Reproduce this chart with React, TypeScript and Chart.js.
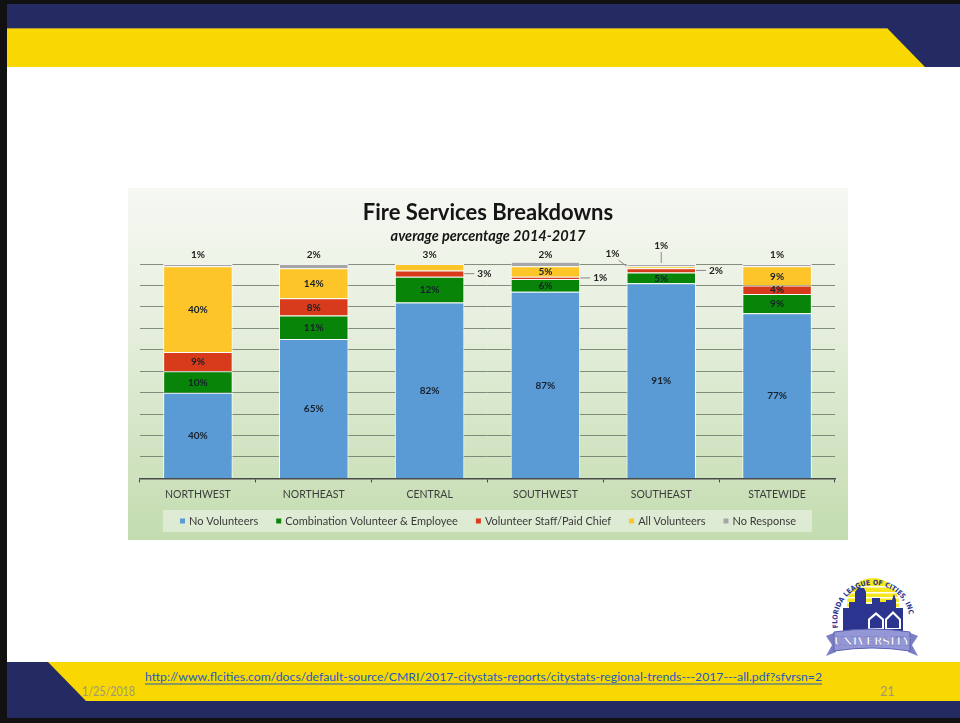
import React, { useEffect, useRef } from "react";
import { Chart, registerables } from "chart.js";

Chart.register(...registerables);

const categories = ["NORTHWEST", "NORTHEAST", "CENTRAL", "SOUTHWEST", "SOUTHEAST", "STATEWIDE"];
const seriesNames = [
  "No Volunteers",
  "Combination Volunteer & Employee",
  "Volunteer Staff/Paid Chief",
  "All Volunteers",
  "No Response",
];
const noVolunteers = [40, 65, 82, 87, 91, 77];
const combination = [10, 11, 12, 6, 5, 9];
const staffPaidChief = [9, 8, 3, 1, 2, 4];
const allVolunteers = [40, 14, 3, 5, 1, 9];
const noResponse = [1, 2, 0, 2, 1, 1];
const seriesColors = ["#5B9BD5", "#088508", "#D83B1B", "#FDC528", "#A6A6A6"];

// where each data label sits: in = inside segment, top = above bar,
// right = callout to the right, topleft / topup = callouts above
const labelPlacement = [
  ["in", "in", "in", "in", "in", "in"],
  ["in", "in", "in", "in", "in", "in"],
  ["in", "in", "right", "right", "right", "in"],
  ["in", "in", "top", "in", "topleft", "in"],
  ["top", "top", "none", "top", "topup", "top"],
];

const FONT = "Lato, 'Noto Sans', sans-serif";

const bgPlugin = {
  id: "bgPlugin",
  beforeDraw(chart: any) {
    const { ctx, width, height } = chart;
    const g = ctx.createLinearGradient(0, 0, 0, height);
    g.addColorStop(0, "#F6F8F3");
    g.addColorStop(0.35, "#E8F0E0");
    g.addColorStop(1, "#C3DCAF");
    ctx.save();
    ctx.fillStyle = g;
    ctx.fillRect(0, 0, width, height);
    ctx.restore();
  },
};

const labelPlugin = {
  id: "labelPlugin",
  afterDatasetsDraw(chart: any) {
    const ctx = chart.ctx;
    const top = chart.chartArea.top;
    ctx.save();
    ctx.textAlign = "center";
    ctx.textBaseline = "middle";
    chart.data.datasets.forEach((ds: any, i: number) => {
      const meta = chart.getDatasetMeta(i);
      meta.data.forEach((bar: any, j: number) => {
        const v = ds.data[j];
        const mode = labelPlacement[i][j];
        if (mode === "none" || !v) return;
        const p = bar.getProps(["x", "y", "base", "width"], true);
        const mid = (p.y + p.base) / 2;
        const left = p.x - p.width / 2;
        const right = p.x + p.width / 2;
        const txt = v + "%";
        ctx.font = "bold 10px " + FONT;
        ctx.strokeStyle = "#8a8a8a";
        ctx.lineWidth = 1;
        if (mode === "in") {
          ctx.fillStyle = "#16202C";
          ctx.fillText(txt, p.x, mid + 0.5);
        } else if (mode === "top") {
          ctx.fillStyle = "#222";
          ctx.fillText(txt, p.x, top - 9);
        } else if (mode === "right") {
          ctx.beginPath();
          ctx.moveTo(right, mid);
          ctx.lineTo(right + 10, mid);
          ctx.stroke();
          ctx.fillStyle = "#222";
          ctx.textAlign = "left";
          ctx.fillText(txt, right + 13, mid);
          ctx.textAlign = "center";
        } else if (mode === "topup") {
          ctx.beginPath();
          ctx.moveTo(p.x, p.y - 1);
          ctx.lineTo(p.x, p.y - 12);
          ctx.stroke();
          ctx.fillStyle = "#222";
          ctx.fillText(txt, p.x, p.y - 18);
        } else if (mode === "topleft") {
          ctx.beginPath();
          ctx.moveTo(left, p.y);
          ctx.lineTo(left - 8, p.y - 6);
          ctx.stroke();
          ctx.fillStyle = "#222";
          ctx.fillText(txt, left - 14, p.y - 12);
        }
      });
    });
    ctx.restore();
  },
};

const textPlugin = {
  id: "textPlugin",
  afterDraw(chart: any) {
    const ctx = chart.ctx;
    const w = chart.width;
    ctx.save();
    ctx.textAlign = "center";
    ctx.textBaseline = "middle";
    ctx.fillStyle = "#151515";
    ctx.font = "bold 22px " + FONT;
    ctx.fillText("Fire Services Breakdowns", w / 2, 25);
    ctx.font = "italic bold 14.5px " + FONT;
    ctx.fillText("average percentage 2014-2017", w / 2, 48);

    // legend
    const ly = 333;
    ctx.fillStyle = "rgba(242,246,238,0.55)";
    ctx.fillRect(35, 322, 649, 22);
    ctx.font = "11px " + FONT;
    const box = 5;
    const gapIn = 4;
    const gapItem = 18;
    const widths = seriesNames.map((n) => ctx.measureText(n).width);
    const total =
      widths.reduce((a, b) => a + b, 0) + seriesNames.length * (box + gapIn) + (seriesNames.length - 1) * gapItem;
    let x = w / 2 - total / 2;
    ctx.textAlign = "left";
    seriesNames.forEach((n, i) => {
      ctx.fillStyle = seriesColors[i];
      ctx.fillRect(x, ly - box / 2, box, box);
      x += box + gapIn;
      ctx.fillStyle = "#3a3a3a";
      ctx.fillText(n, x, ly + 0.5);
      x += widths[i] + gapItem;
    });
    ctx.restore();
  },
};

function FireChart() {
  const ref = useRef<HTMLCanvasElement>(null);
  useEffect(() => {
    if (!ref.current) return;
    const values = [noVolunteers, combination, staffPaidChief, allVolunteers, noResponse];
    const chart = new Chart(ref.current, {
      type: "bar",
      data: {
        labels: categories,
        datasets: seriesNames.map((name, i) => ({
          label: name,
          data: values[i],
          backgroundColor: seriesColors[i],
          borderColor: "rgba(255,255,255,0.9)",
          borderWidth: 1,
          barPercentage: 0.6,
          categoryPercentage: 1,
          clip: false as any,
        })),
      },
      options: {
        responsive: false,
        animation: false,
        devicePixelRatio: 1,
        layout: { padding: { left: 12, right: 13, top: 76, bottom: 33 } },
        plugins: {
          legend: { display: false },
          title: { display: false },
          tooltip: { enabled: false },
        },
        scales: {
          x: {
            stacked: true,
            grid: {
              display: true,
              drawOnChartArea: false,
              drawTicks: true,
              tickLength: 4,
              offset: true,
              color: "#444",
            },
            border: { display: true, color: "#4a4a4a", width: 1.5 },
            ticks: { color: "#3c3c3c", font: { size: 10.5, family: FONT }, padding: 6 },
          },
          y: {
            stacked: true,
            min: 0,
            max: 100,
            ticks: { display: false, stepSize: 10 },
            grid: { color: "rgba(105,115,100,0.8)", drawTicks: false, lineWidth: 1 },
            border: { display: false },
          },
        },
      },
      plugins: [bgPlugin, labelPlugin, textPlugin],
    });
    return () => chart.destroy();
  }, []);
  return <canvas ref={ref} width={720} height={352} style={{ position: "absolute", left: 128, top: 188 }} />;
}

function Slide() {
  const navy = "#232B62";
  const yellow = "#F8D800";
  return (
    <svg width={960} height={723} style={{ position: "absolute", left: 0, top: 0 }}>
      <rect x={0} y={0} width={960} height={723} fill="#ffffff" />
      {/* top band */}
      <rect x={0} y={0} width={960} height={67} fill={navy} />
      <polygon points="7,28 887,28 925,67 7,67" fill={yellow} />
      <line x1={7} y1={28.5} x2={887} y2={28.5} stroke="#B09A30" strokeWidth={1} />
      {/* bottom band */}
      <rect x={0} y={662} width={960} height={56} fill={navy} />
      <polygon points="48,662 960,662 960,701 86,701" fill={yellow} />
      {/* frame */}
      <rect x={0} y={0} width={960} height={4} fill="#111" />
      <rect x={0} y={0} width={7} height={723} fill="#111" />
      <rect x={0} y={718} width={960} height={5} fill="#111" />
      {/* footer texts */}
      <text
        x={145}
        y={681}
        textLength={677}
        lengthAdjust="spacingAndGlyphs"
        fontFamily="'Liberation Sans Narrow', Lato, sans-serif"
        fontSize={12}
        fill="#1E5BC6"
      >
        http://www.flcities.com/docs/default-source/CMRI/2017-citystats-reports/citystats-regional-trends---2017---all.pdf?sfvrsn=2
      </text>
      <line x1={145} y1={684} x2={822} y2={684} stroke="#1E5BC6" strokeWidth={1} />
      <text x={82} y={696} textLength={53} lengthAdjust="spacingAndGlyphs" fontFamily={FONT} fontSize={12.5} fill="#A09878">
        1/25/2018
      </text>
      <text x={880} y={696} fontFamily={FONT} fontSize={12.5} fill="#A09878">
        21
      </text>
      {/* logo */}
      <g>
        <defs>
          <clipPath id="sunclip">
            <circle cx={873} cy={604} r={26} />
          </clipPath>
          <path id="arcpath" d="M 838 628 A 36 36 0 1 1 909 614" />
        </defs>
        <g clipPath="url(#sunclip)">
          <rect x={840} y={570} width={70} height={70} fill="#F5E61E" />
          {[586, 592, 597, 602, 607, 612].map((yy) => (
            <rect key={yy} x={840} y={yy} width={70} height={1.5} fill="#ffffff" />
          ))}
        </g>
        <path
          d="M843 632 L843 608 L849 608 L849 602 L855 602 L855 592 L858 588 L864 588 L866 592 L866 604 L872 604 L872 598 L880 598 L880 602 L886 602 L886 600 L892 600 L894 594 L896 600 L896 608 L903 608 L903 632 Z"
          fill="#2B3590"
        />
        <polygon points="868,619 876,612 884,619 884,629 868,629" fill="#ffffff" />
        <polygon points="870,620 876,615 882,620 882,628 870,628" fill="#2B3590" />
        <polygon points="885,619 893,611 901,619 901,629 885,629" fill="#ffffff" />
        <polygon points="887,620 893,614 899,620 899,628 887,628" fill="#2B3590" />
        <text fontFamily="'DejaVu Sans Condensed', 'DejaVu Sans', sans-serif" fontWeight="bold" fontSize={7} fill="#2B3590">
          <textPath href="#arcpath">FLORIDA LEAGUE OF CITIES, INC</textPath>
        </text>
        <path d="M826 636 L836 632 L836 652 L826 656 L832 645 Z" fill="#7B7FC4" />
        <path d="M918 636 L908 632 L908 652 L918 656 L912 645 Z" fill="#7B7FC4" />
        <path d="M834 632 Q872 626 910 632 L910 651 Q872 645 834 651 Z" fill="#9497D6" stroke="#5D62B3" strokeWidth={1} />
        <text
          x={872}
          y={645}
          textAnchor="middle"
          fontFamily="'DejaVu Serif', serif"
          fontWeight="bold"
          fontSize={10.5}
          fill="#ffffff"
          stroke="#5D62B3"
          strokeWidth={0.4}
        >
          UNIVERSITY
        </text>
      </g>
    </svg>
  );
}

export default function App() {
  return (
    <div style={{ position: "absolute", left: 0, top: 0, width: 960, height: 723, overflow: "hidden", background: "#fff" }}>
      <Slide />
      <FireChart />
    </div>
  );
}
